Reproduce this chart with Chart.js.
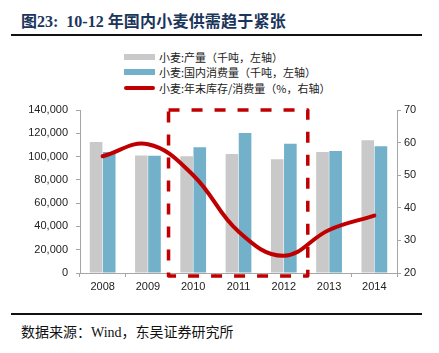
<!DOCTYPE html>
<html>
<head>
<meta charset="utf-8">
<script src="https://cdn.jsdelivr.net/npm/chart.js@4.4.0/dist/chart.umd.min.js"></script>
<style>
  html, body { margin:0; padding:0; background:#fff; }
  body { width:439px; height:353px; position:relative; overflow:hidden; }
  #title { position:absolute; left:21px; top:8px; font-family:"Liberation Serif","Noto Sans CJK SC",serif; font-weight:bold; font-size:16px; color:#1b355b; white-space:nowrap; }
  #title .cn { font-family:"Noto Sans CJK SC",sans-serif; letter-spacing:0.2px; }
  .rule { position:absolute; left:11px; width:411px; height:2px; background:#111; }
  #source { position:absolute; left:21px; top:321px; font-family:"Liberation Serif","Noto Sans CJK SC",serif; font-size:14px; color:#111; white-space:nowrap; }
  #legend { position:absolute; left:124px; top:49px; font-family:"Noto Sans CJK SC",sans-serif; font-size:11px; color:#222; }
  .lrow { height:15.5px; display:flex; align-items:center; white-space:nowrap; }
  .sw { width:31px; margin-right:4px; }
  #chartbox { position:absolute; left:0; top:95px; width:439px; height:215px; }
</style>
</head>
<body>
<div id="title">图23:&nbsp;&nbsp;10-12 <span class="cn">年国内小麦供需趋于紧张</span></div>
<div class="rule" style="top:34px"></div>
<div id="legend"></div>
<div id="chartbox"><canvas id="c" width="439" height="215"></canvas></div>
<div class="rule" style="top:313px"></div>
<div id="source">数据来源：Wind，东吴证券研究所</div>
<script>
const categories = ["2008","2009","2010","2011","2012","2013","2014"];
const production = [112500, 101000, 100200, 102300, 97600, 104000, 114000];
const consumption = [104000, 100700, 108000, 120200, 111000, 104800, 108800];
const stockRatio = [55.8, 59.5, 50.0, 32.7, 25.3, 33.2, 37.6];
const leftTicks = { min: 0, max: 140000, step: 20000 };
const rightTicks = { min: 20, max: 70, step: 10 };
const seriesNames = ["小麦:产量（千吨，左轴）", "小麦:国内消费量（千吨，左轴）", "小麦:年末库存/消费量（%，右轴）"];
// highlight box (category index range and value range on the left axis)
const highlight = { fromIndex: 1.455, toIndex: 4.53, top: 140000, bottom: -2600 };

const GRAY = "#c9c9c9", BLUE = "#73b0ca", RED = "#c00000", AXIS = "#a6a6a6";

// HTML legend
const leg = document.getElementById('legend');
[[GRAY, 'bar'], [BLUE, 'bar'], [RED, 'line']].forEach((s, i) => {
  const row = document.createElement('div'); row.className = 'lrow';
  const sw = document.createElement('div'); sw.className = 'sw';
  sw.style.background = s[0];
  if (s[1] === 'bar') { sw.style.height = '6px'; } else { sw.style.height = '3.5px'; sw.style.borderRadius = '2px'; }
  const t = document.createElement('span'); t.textContent = seriesNames[i];
  row.appendChild(sw); row.appendChild(t); leg.appendChild(row);
});

const boxPlugin = {
  id: 'boxPlugin',
  afterDatasetsDraw(chart) {
    const x = chart.scales.x, y = chart.scales.y, ctx = chart.ctx;
    const x0 = x.getPixelForValue(highlight.fromIndex), x1 = x.getPixelForValue(highlight.toIndex);
    const y0 = y.getPixelForValue(highlight.top), y1 = y.getPixelForValue(highlight.bottom);
    ctx.save();
    ctx.strokeStyle = RED; ctx.lineWidth = 3.5; ctx.setLineDash([11, 12]);
    ctx.lineJoin = 'round';
    ctx.beginPath(); ctx.rect(x0, y0, x1 - x0, y1 - y0); ctx.stroke();
    ctx.restore();
  }
};

const tickFont = { family: "'Liberation Sans', Arial, sans-serif", size: 11 };
new Chart(document.getElementById('c'), {
  data: {
    labels: categories,
    datasets: [
      { type: 'line', label: seriesNames[2], data: stockRatio, yAxisID: 'y1', borderColor: RED, borderWidth: 4, pointRadius: 0, tension: 0.4, fill: false, order: 0, borderCapStyle: 'round' },
      { type: 'bar', label: seriesNames[0], data: production, yAxisID: 'y', backgroundColor: GRAY, categoryPercentage: 0.58, barPercentage: 0.96, order: 1 },
      { type: 'bar', label: seriesNames[1], data: consumption, yAxisID: 'y', backgroundColor: BLUE, categoryPercentage: 0.58, barPercentage: 0.96, order: 1 }
    ]
  },
  options: {
    responsive: false, animation: false, devicePixelRatio: 1,
    layout: { padding: { top: 15, left: 0, right: 0, bottom: 0 } },
    plugins: { legend: { display: false }, tooltip: { enabled: false } },
    scales: {
      x: {
        grid: { offset: true, drawOnChartArea: false, drawTicks: true, tickLength: 4, color: AXIS },
        border: { color: AXIS, width: 1 },
        ticks: { font: tickFont, color: '#222', padding: 3, maxRotation: 0 },
        afterFit(s) { s.height = 37; }
      },
      y: {
        position: 'left', min: leftTicks.min, max: leftTicks.max,
        grid: { drawOnChartArea: false, tickLength: 4, color: AXIS },
        border: { color: AXIS, width: 1 },
        ticks: { stepSize: leftTicks.step, font: tickFont, color: '#222', padding: 8,
          callback: v => v.toLocaleString('en-US') },
        afterFit(s) { s.width = 80; }
      },
      y1: {
        position: 'right', min: rightTicks.min, max: rightTicks.max,
        grid: { drawOnChartArea: false, tickLength: 4, color: AXIS },
        border: { color: AXIS, width: 1 },
        ticks: { stepSize: rightTicks.step, font: tickFont, color: '#222', padding: 3 },
        afterFit(s) { s.width = 42; }
      }
    }
  },
  plugins: [boxPlugin]
});
</script>
</body>
</html>
